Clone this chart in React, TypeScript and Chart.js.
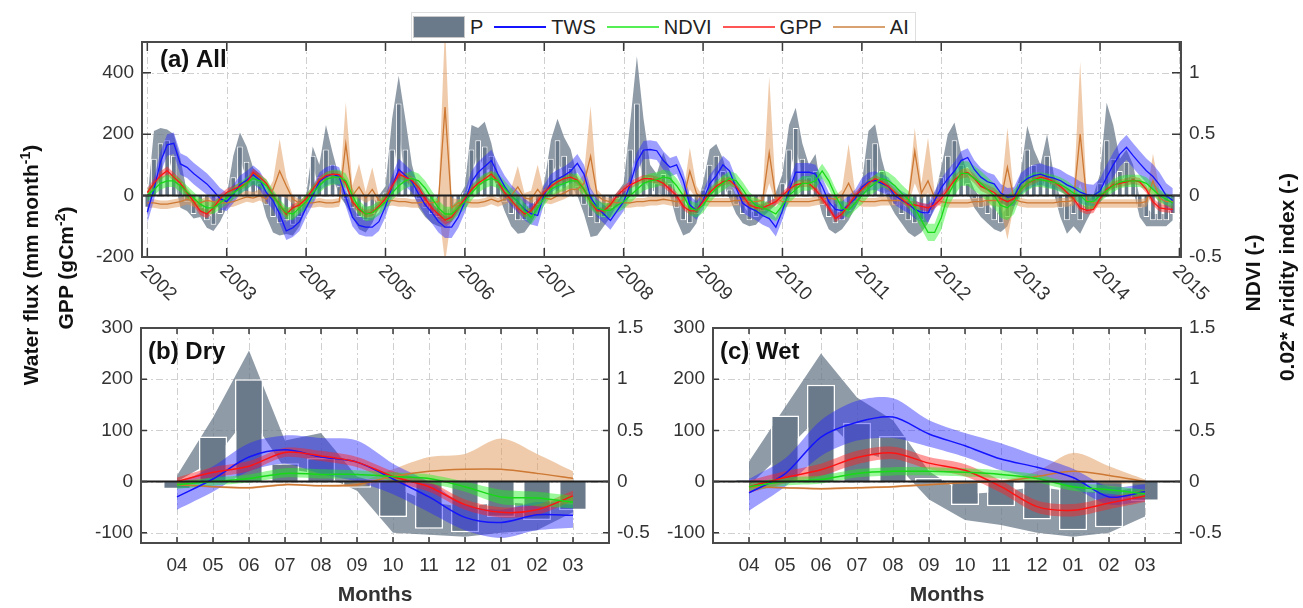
import React, { useEffect, useRef } from 'react';
import { Chart, registerables } from 'chart.js';
Chart.register(...registerables);

// ---------------- DATA ----------------
const startYear = 2002;
const years = [2002, 2003, 2004, 2005, 2006, 2007, 2008, 2009, 2010, 2011, 2012, 2013, 2014, 2015];
const topLeftTicks = [-200, 0, 200, 400];
const topRightTicks = [-0.5, 0, 0.5, 1];
const botLeftTicks = [-100, 0, 100, 200, 300];
const botRightTicks = [-0.5, 0, 0.5, 1, 1.5];
const months = ['04', '05', '06', '07', '08', '09', '10', '11', '12', '01', '02', '03'];

// (a) All: monthly anomalies 2002-2014 (mm / gCm-2 on left axis, NDVI & 0.02*AI on right axis)
const pMean = [
  -40, 120, 170, 180, 130, 40, -20, -60, -40, -80, -95, -60,
  -20, 60, 160, 110, 50, 40, -30, -70, -90, -80, -95, -70,
  -20, 130, 60, 150, 100, 30, -10, -40, -70, -80, -60, -20,
  10, 150, 300, 150, 60, -10, -40, -60, -70, -80, -60, -30,
  10, 150, 180, 160, 130, 40, -20, -60, -80, -80, -60, -30,
  20, 120, 180, 130, 90, 30, -30, -70, -90, -70, -40, -10,
  20, 150, 300, 150, 60, 40, 70, 40, -40, -80, -90, -60,
  20, 100, 130, 80, 20, -30, -60, -80, -70, -50, -30, -10,
  40, 150, 220, 120, 60, 80, -30, -70, -90, -80, -50, -20,
  20, 120, 170, 80, 10, -30, -60, -80, -90, -80, -60, -20,
  60, 130, 180, 100, 40, -10, -40, -60, -80, -90, -70, -20,
  40, 150, 100, 60, 130, 40, -40, -80, -60, -80, -50, -20,
  40, 180, 120, 80, 110, 60, -40, -70, -80, -80, -80, -60,
];
const pSpread = [
  25, 90, 50, 35, 70, 80, 30, 15, 30, 25, 20, 25,
  20, 70, 45, 50, 40, 30, 40, 50, 40, 45, 35, 30,
  20, 30, 40, 80, 40, 30, 20, 30, 40, 40, 30, 20,
  20, 100, 90, 100, 40, 30, 30, 30, 30, 25, 25, 20,
  20, 80, 40, 80, 40, 30, 30, 40, 44, 40, 30, 20,
  20, 60, 70, 60, 60, 30, 30, 65, 40, 30, 30, 20,
  20, 90, 154, 100, 40, 30, 70, 40, 40, 50, 30, 30,
  20, 50, 38, 40, 30, 30, 30, 20, 25, 20, 20, 20,
  30, 80, 66, 50, 40, 55, 30, 40, 34, 30, 30, 20,
  20, 90, 62, 40, 30, 30, 30, 40, 45, 40, 30, 20,
  30, 70, 58, 40, 30, 30, 30, 30, 30, 29, 30, 20,
  30, 77, 50, 40, 70, 30, 30, 44, 40, 44, 30, 20,
  30, 122, 110, 40, 40, 40, 30, 30, 20, 20, 20, 20,
];
const tws = [
  -54, 20, 110, 165, 170, 103, 92, 72, 55, 38, 15, -10,
  -20, 5, 35, 50, 68, 50, 10, -16, -60, -115, -105, -85,
  -40, 0, 45, 62, 70, 62, -5, -70, -97, -103, -103, -85,
  -35, 30, 85, 65, 45, 5, -30, -55, -85, -103, -103, -70,
  -20, 45, 75, 95, 114, 70, 30, 0, -20, -45, -59, -65,
  5, 40, 54, 65, 80, 105, 70, -5, -40, -60, -81, -50,
  -20, 38, 110, 148, 150, 146, 114, 92, 100, 49, -30, -49,
  -16, 38, 65, 100, 80, 25, -25, -40, -50, -65, -75, -103,
  -49, 16, 76, 76, 76, 70, 30, -20, -45, -49, -30, -10,
  27, 45, 49, 40, 30, 0, -15, -27, -45, -55, -57, -16,
  25, 55, 80, 114, 124, 85, 60, 45, 38, 8, -5, -3,
  38, 55, 65, 70, 62, 57, 49, 35, 25, 11, 3, 0,
  15, 60, 100, 135, 157, 130, 105, 81, 62, 35, 0, -16,
];
const twsSpreadYr = [35, 30, 30, 35, 35, 30, 30, 30, 30, 30, 30, 35, 40];
const gpp = [
  10, 40, 65, 81, 60, 40, 10, -20, -50, -60, -40, -10,
  10, 20, 30, 40, 75, 60, 40, 0, -30, -60, -40, -30,
  -10, 20, 50, 65, 70, 68, 40, -20, -45, -60, -55, -35,
  -10, 30, 70, 60, 49, 27, -10, -40, -60, -80, -70, -40,
  -10, 20, 40, 55, 70, 45, 10, -15, -40, -60, -50, -20,
  10, 30, 45, 55, 60, 50, 20, -20, -50, -50, -30, 0,
  20, 35, 45, 55, 55, 50, 40, 20, 0, -35, -50, -50,
  -20, 10, 30, 45, 50, 30, 0, -30, -40, -40, -30, -20,
  0, 20, 35, 40, 40, 20, -10, -40, -75, -60, -30, 0,
  20, 40, 55, 45, 30, 10, -10, -30, -30, -35, -40, -30,
  -10, 20, 50, 70, 75, 55, 30, 20, 10, -10, -20, -10,
  20, 40, 50, 60, 55, 45, 30, 10, -10, -40, -49, -45,
  -10, 20, 35, 40, 45, 50, 45, 20, -20, -40, -43, -45,
];
const gppSpreadYr = [14, 12, 12, 14, 12, 12, 12, 12, 12, 12, 15, 12, 12];
const ndvi = [
  0, 0.05, 0.1, 0.12, 0.12, 0.08, 0.03, -0.02, -0.07, -0.1, -0.1, -0.06,
  -0.02, 0.02, 0.06, 0.1, 0.14, 0.12, 0.08, 0.0, -0.08, -0.14, -0.15, -0.1,
  -0.05, 0.02, 0.08, 0.13, 0.15, 0.15, 0.12, 0.0, -0.1, -0.15, -0.14, -0.1,
  -0.05, 0.02, 0.08, 0.12, 0.14, 0.12, 0.06, -0.02, -0.1, -0.15, -0.15, -0.1,
  -0.05, 0.02, 0.08, 0.12, 0.14, 0.12, 0.06, 0.0, -0.05, -0.12, -0.18, -0.1,
  -0.02, 0.05, 0.08, 0.1, 0.12, 0.12, 0.05, -0.05, -0.1, -0.12, -0.12, -0.08,
  -0.05, 0.0, 0.05, 0.1, 0.12, 0.13, 0.15, 0.14, 0.08, 0.0, -0.1, -0.12,
  -0.08, 0.0, 0.06, 0.1, 0.14, 0.12, 0.05, -0.03, -0.08, -0.1, -0.12, -0.15,
  -0.08, 0.0, 0.05, 0.1, 0.1, 0.12, 0.2, 0.12, 0.0, -0.1, -0.12, -0.06,
  0.0, 0.06, 0.1, 0.14, 0.12, 0.08, 0.02, -0.03, -0.1, -0.2, -0.3, -0.3,
  -0.18, 0.0, 0.1, 0.18, 0.18, 0.14, 0.1, 0.05, 0.0, -0.08, -0.1, -0.05,
  0.05, 0.1, 0.13, 0.13, 0.12, 0.11, 0.09, 0.06, 0.02, 0.0, -0.05, -0.05,
  0.0, 0.04, 0.08, 0.11, 0.12, 0.12, 0.12, 0.1, 0.05, 0.0, -0.03, -0.06,
];
const ndviSpreadYr = [0.05, 0.05, 0.06, 0.06, 0.06, 0.06, 0.06, 0.06, 0.06, 0.07, 0.1, 0.06, 0.05];
const ai = [
  -0.06, -0.06, -0.07, -0.07, -0.06, -0.05, -0.03, -0.05, -0.06, -0.04, -0.05, -0.06,
  -0.06, -0.05, -0.03, -0.01, -0.02, 0.0, -0.03, 0.05, 0.2, 0.08, -0.03, -0.06,
  -0.06, -0.06, -0.05, -0.06, -0.06, -0.05, 0.42, 0.0, 0.07, -0.02, 0.05, -0.04,
  -0.05, -0.04, -0.05, -0.05, -0.06, -0.06, -0.05, -0.06, -0.05, 0.72, -0.1, -0.06,
  -0.05, -0.06, -0.06, -0.05, -0.03, -0.05, -0.03, 0.0, 0.07, -0.02, -0.03, 0.05,
  -0.02, -0.03, 0.0, 0.02, 0.05, 0.05, 0.1, 0.32, 0.0, -0.04, -0.05, -0.06,
  -0.06, -0.06, -0.05, -0.05, -0.04, -0.04, -0.03, -0.04, -0.05, -0.04, 0.2, 0.02,
  -0.04, -0.05, -0.05, -0.05, -0.05, -0.04, -0.04, -0.05, -0.05, -0.04, 0.35, -0.02,
  -0.05, -0.05, -0.05, -0.05, -0.05, -0.04, -0.03, -0.02, -0.03, 0.0, 0.1, -0.02,
  -0.05, -0.05, -0.05, -0.04, -0.04, -0.04, -0.04, -0.04, 0.36, 0.02, 0.12, -0.02,
  -0.05, -0.06, -0.06, -0.06, -0.06, -0.05, -0.05, -0.04, -0.04, -0.04, 0.23, -0.03,
  -0.05, -0.06, -0.06, -0.06, -0.06, -0.06, -0.05, -0.05, -0.04, 0.5, -0.04, -0.06,
  -0.06, -0.06, -0.06, -0.06, -0.06, -0.06, -0.06, -0.05, 0.12, -0.02, -0.05, -0.05,
];
const aiHigh = [
  -0.03, -0.03, -0.04, -0.04, -0.03, -0.02, 0.0, -0.02, -0.03, -0.01, -0.02, -0.03,
  -0.03, -0.02, 0.02, 0.04, 0.03, 0.05, 0.02, 0.12, 0.46, 0.15, 0.0, -0.03,
  -0.03, -0.03, -0.02, -0.03, -0.03, -0.02, 0.76, 0.08, 0.26, 0.03, 0.23, -0.01,
  -0.02, -0.01, -0.02, -0.02, -0.03, -0.03, -0.02, -0.03, -0.02, 1.4, -0.02, -0.03,
  -0.02, -0.03, -0.03, -0.02, 0.0, -0.02, 0.02, 0.06, 0.24, 0.02, 0.04, 0.25,
  0.02, 0.0, 0.04, 0.06, 0.1, 0.1, 0.18, 0.73, 0.05, -0.01, -0.02, -0.03,
  -0.03, -0.03, -0.02, -0.02, -0.01, -0.01, 0.0, -0.01, -0.02, 0.0, 0.39, 0.08,
  -0.01, -0.02, -0.02, -0.02, -0.02, -0.01, -0.01, -0.02, -0.02, 0.0, 0.97, 0.02,
  -0.02, -0.02, -0.02, -0.02, -0.02, -0.01, 0.0, 0.02, 0.0, 0.05, 0.42, 0.02,
  -0.02, -0.02, -0.02, -0.01, -0.01, -0.01, -0.01, 0.0, 0.55, 0.1, 0.47, 0.03,
  -0.02, -0.03, -0.03, -0.03, -0.03, -0.02, -0.02, -0.01, -0.01, 0.0, 0.55, 0.0,
  -0.02, -0.03, -0.03, -0.03, -0.03, -0.03, -0.02, -0.02, 0.0, 1.09, 0.0, -0.03,
  -0.03, -0.03, -0.03, -0.03, -0.03, -0.03, -0.03, -0.02, 0.34, 0.05, -0.02, -0.02,
];
const aiLow = [
  -0.1, -0.1, -0.11, -0.11, -0.1, -0.09, -0.07, -0.09, -0.1, -0.08, -0.09, -0.1,
  -0.1, -0.09, -0.07, -0.05, -0.06, -0.04, -0.07, -0.02, 0.0, -0.02, -0.07, -0.1,
  -0.1, -0.1, -0.09, -0.1, -0.1, -0.09, 0.1, -0.05, -0.02, -0.06, -0.03, -0.08,
  -0.09, -0.08, -0.09, -0.09, -0.1, -0.1, -0.09, -0.1, -0.09, -0.55, -0.16, -0.1,
  -0.09, -0.1, -0.1, -0.09, -0.07, -0.09, -0.07, -0.05, -0.02, -0.06, -0.07, -0.02,
  -0.06, -0.07, -0.05, -0.03, 0.0, 0.0, 0.02, 0.05, -0.05, -0.08, -0.09, -0.1,
  -0.1, -0.1, -0.09, -0.09, -0.08, -0.08, -0.07, -0.08, -0.09, -0.08, 0.05, -0.03,
  -0.08, -0.09, -0.09, -0.09, -0.09, -0.08, -0.08, -0.09, -0.09, -0.08, 0.1, -0.06,
  -0.09, -0.09, -0.09, -0.09, -0.09, -0.08, -0.07, -0.06, -0.07, -0.05, 0.0, -0.06,
  -0.09, -0.09, -0.09, -0.08, -0.08, -0.08, -0.08, -0.08, 0.1, -0.03, 0.02, -0.06,
  -0.09, -0.1, -0.1, -0.1, -0.1, -0.09, -0.09, -0.08, -0.08, -0.1, -0.36, -0.07,
  -0.09, -0.1, -0.1, -0.1, -0.1, -0.1, -0.09, -0.09, -0.08, 0.1, -0.08, -0.1,
  -0.1, -0.1, -0.1, -0.1, -0.1, -0.1, -0.1, -0.09, 0.02, -0.06, -0.09, -0.09,
];

// (b) Dry season climatology
const dryP = [-15, 88, 200, 36, 46, -12, -69, -92, -99, -69, -75, -56];
const dryPHigh = [12, 125, 256, 80, 95, 10, -10, -40, -50, -40, -45, -30];
const dryPLow = [0, 40, 130, 25, 15, -18, -100, -104, -108, -100, -95, -60];
const dryTws = [-30, 5, 48, 62, 48, 38, 5, -30, -70, -80, -65, -66];
const dryTwsHigh = [-5, 30, 75, 90, 85, 80, 35, 0, -45, -55, -40, -45];
const dryTwsLow = [-55, -20, 20, 35, 15, 0, -25, -60, -95, -110, -95, -90];
const dryGpp = [0, 18, 30, 57, 50, 38, 10, -10, -45, -60, -55, -28];
const dryGppHigh = [8, 28, 40, 66, 60, 48, 20, 0, -35, -50, -45, -18];
const dryGppLow = [-8, 8, 20, 48, 40, 28, 0, -20, -55, -70, -65, -38];
const dryNdvi = [-0.03, 0.0, 0.03, 0.08, 0.07, 0.07, 0.05, 0.03, -0.05, -0.15, -0.16, -0.2];
const dryNdviHigh = [0.0, 0.04, 0.07, 0.13, 0.12, 0.11, 0.09, 0.07, 0.0, -0.08, -0.1, -0.14];
const dryNdviLow = [-0.07, -0.04, -0.01, 0.04, 0.03, 0.03, 0.01, -0.02, -0.1, -0.22, -0.24, -0.26];
const dryAi = [-0.03, -0.05, -0.06, -0.03, -0.04, -0.03, 0.05, 0.1, 0.12, 0.12, 0.08, 0.03];
const dryAiHigh = [-0.02, -0.04, -0.05, -0.02, -0.03, -0.01, 0.12, 0.24, 0.27, 0.42, 0.27, 0.1];
const dryAiLow = [-0.04, -0.06, -0.07, -0.04, -0.05, -0.05, 0.0, 0.0, 0.0, 0.0, 0.0, 0.0];

// (c) Wet season climatology
const wetP = [4, 129, 189, 115, 89, 7, -46, -48, -74, -95, -89, -38];
const wetPHigh = [39, 145, 250, 164, 120, 20, -25, -20, -10, -20, -20, -10];
const wetPLow = [-8, 60, 130, 60, 40, -35, -75, -85, -100, -108, -100, -68];
const wetTws = [-22, 15, 87, 116, 126, 93, 70, 44, 28, 8, -30, -20];
const wetTwsHigh = [5, 45, 120, 158, 163, 120, 95, 75, 50, 25, -10, -5];
const wetTwsLow = [-57, -10, 50, 80, 85, 68, 48, 22, 5, -12, -45, -38];
const wetGpp = [-10, 8, 23, 47, 56, 36, 22, -10, -49, -56, -42, -28];
const wetGppHigh = [2, 20, 35, 60, 68, 48, 34, 2, -37, -44, -30, -16];
const wetGppLow = [-22, -4, 11, 34, 44, 24, 10, -22, -61, -68, -54, -40];
const wetNdvi = [-0.05, 0.0, 0.02, 0.08, 0.1, 0.1, 0.09, 0.07, 0.03, -0.05, -0.08, -0.12];
const wetNdviHigh = [-0.01, 0.04, 0.06, 0.12, 0.14, 0.14, 0.13, 0.11, 0.07, -0.01, -0.04, -0.08];
const wetNdviLow = [-0.09, -0.04, -0.02, 0.04, 0.06, 0.06, 0.05, 0.03, -0.01, -0.09, -0.12, -0.16];
const wetAi = [-0.05, -0.06, -0.07, -0.06, -0.05, -0.03, -0.01, 0.0, 0.05, 0.1, 0.06, 0.0];
const wetAiHigh = [-0.04, -0.05, -0.06, -0.05, -0.04, -0.02, 0.0, 0.01, 0.1, 0.28, 0.15, 0.02];
const wetAiLow = [-0.06, -0.07, -0.08, -0.07, -0.06, -0.04, -0.02, -0.01, 0.0, 0.0, -0.02, -0.02];

// ---------------- STYLE ----------------
const SANS = "'Liberation Sans', Arial, Helvetica, sans-serif";
const C = {
  pBar: '#6b7a8a',
  pBand: 'rgba(106,121,137,0.75)',
  tws: '#1414ff',
  twsBand: 'rgba(40,40,255,0.45)',
  gpp: '#ff1414',
  gppBand: 'rgba(255,30,30,0.45)',
  ndvi: '#17d917',
  ndviBand: 'rgba(30,240,30,0.45)',
  ai: '#cd7833',
  aiBand: 'rgba(226,152,88,0.5)',
};

// ---------------- HELPERS ----------------
function pts(xs: number[], ys: number[]) {
  return ys.map((y, i) => ({ x: xs[i], y }));
}
function lineDs(xs: number[], ys: number[], color: string, axis: string, order: number, width: number, tension: number) {
  return { type: 'line', data: pts(xs, ys), borderColor: color, borderWidth: width, pointRadius: 0, fill: false, yAxisID: axis, order, tension };
}
function addBand(list: any[], xs: number[], lo: number[], hi: number[], color: string, axis: string, order: number, tension: number) {
  const idx = list.length;
  list.push({ type: 'line', data: pts(xs, lo), borderColor: 'rgba(0,0,0,0)', borderWidth: 0, pointRadius: 0, fill: false, yAxisID: axis, order, tension });
  list.push({ type: 'line', data: pts(xs, hi), borderColor: 'rgba(0,0,0,0)', borderWidth: 0, pointRadius: 0, backgroundColor: color, fill: { target: idx }, yAxisID: axis, order, tension });
}

function decorPlugin(o: any) {
  return {
    id: 'decor',
    beforeDatasetsDraw(chart: any) {
      const { ctx, chartArea: a, scales } = chart;
      ctx.save();
      ctx.strokeStyle = '#d0d0d0';
      ctx.lineWidth = 1;
      ctx.setLineDash([7, 3, 2, 3]);
      ctx.beginPath();
      for (const t of scales.x.ticks) {
        const px = Math.round(scales.x.getPixelForValue(t.value)) + 0.5;
        ctx.moveTo(px, a.top);
        ctx.lineTo(px, a.bottom);
      }
      for (const t of scales.y.ticks) {
        const py = Math.round(scales.y.getPixelForValue(t.value)) + 0.5;
        ctx.moveTo(a.left, py);
        ctx.lineTo(a.right, py);
      }
      ctx.stroke();
      ctx.restore();
    },
    afterDatasetsDraw(chart: any) {
      const { ctx, chartArea: a, scales } = chart;
      const L = o.tickLen;
      ctx.save();
      const y0 = scales.y.getPixelForValue(0);
      ctx.strokeStyle = '#1e1e1e';
      ctx.lineWidth = 2;
      ctx.beginPath();
      ctx.moveTo(a.left, y0);
      ctx.lineTo(a.right, y0);
      ctx.stroke();
      ctx.strokeStyle = '#3a3a3a';
      ctx.lineWidth = 1.5;
      ctx.beginPath();
      for (const t of scales.x.ticks) {
        const px = scales.x.getPixelForValue(t.value);
        ctx.moveTo(px, a.bottom);
        ctx.lineTo(px, a.bottom - L);
        ctx.moveTo(px, a.top);
        ctx.lineTo(px, a.top + L);
      }
      for (const t of scales.y.ticks) {
        const py = scales.y.getPixelForValue(t.value);
        ctx.moveTo(a.left, py);
        ctx.lineTo(a.left + L, py);
      }
      for (const t of scales.y2.ticks) {
        const py = scales.y2.getPixelForValue(t.value);
        ctx.moveTo(a.right, py);
        ctx.lineTo(a.right - L, py);
      }
      ctx.stroke();
      ctx.strokeStyle = '#4a4a4a';
      ctx.lineWidth = 2;
      ctx.strokeRect(a.left, a.top, a.right - a.left, a.bottom - a.top);
      ctx.fillStyle = '#111';
      ctx.font = `bold 24px ${SANS}`;
      ctx.textAlign = 'left';
      ctx.textBaseline = 'middle';
      ctx.fillText(o.title, a.left + o.titleDx, a.top + o.titleDy);
      if (o.rotated) {
        ctx.font = `19px ${SANS}`;
        ctx.fillStyle = '#333';
        for (const t of scales.x.ticks) {
          const px = scales.x.getPixelForValue(t.value);
          ctx.save();
          ctx.translate(px - 4, a.bottom + 11);
          ctx.rotate(Math.PI / 4);
          ctx.fillText(String(t.value), 0, 0);
          ctx.restore();
        }
      }
      ctx.restore();
    },
  };
}

function buildConfig(p: any) {
  const tickFont = { family: SANS, size: 19 };
  return {
    type: 'line',
    data: { datasets: p.datasets },
    options: {
      animation: false,
      responsive: false,
      devicePixelRatio: 1,
      events: [],
      layout: { padding: { top: p.padTop, left: 0, right: 0, bottom: 0 } },
      plugins: { legend: { display: false }, tooltip: { enabled: false } },
      scales: {
        x: {
          type: 'linear',
          offset: false,
          min: p.xMin,
          max: p.xMax,
          afterBuildTicks: (s: any) => { s.ticks = p.xTicks.map((v: number) => ({ value: v })); },
          afterFit: (s: any) => { s.height = p.bottomH; },
          grid: { display: false, drawTicks: false, offset: false },
          border: { display: false },
          ticks: {
            display: !!p.xLabels,
            autoSkip: false,
            maxRotation: 0,
            minRotation: 0,
            padding: 11,
            color: '#333',
            font: tickFont,
            callback: (v: any) => (p.xLabels ? (p.xLabels[v] ?? '') : ''),
          },
          title: p.xTitle
            ? { display: true, text: p.xTitle, color: '#333', font: { family: SANS, size: 21, weight: 'bold' }, padding: 0 }
            : { display: false },
        },
        y: {
          type: 'linear',
          position: 'left',
          min: p.yMin,
          max: p.yMax,
          afterBuildTicks: (s: any) => { s.ticks = p.yTicks.map((v: number) => ({ value: v })); },
          afterFit: (s: any) => { s.width = p.leftW; },
          grid: { display: false, drawTicks: false },
          border: { display: false },
          ticks: { padding: 8, color: '#333', font: tickFont, callback: (v: any) => String(v) },
        },
        y2: {
          type: 'linear',
          position: 'right',
          min: p.y2Min,
          max: p.y2Max,
          afterBuildTicks: (s: any) => { s.ticks = p.y2Ticks.map((v: number) => ({ value: v })); },
          afterFit: (s: any) => { s.width = p.rightW; },
          grid: { display: false, drawTicks: false },
          border: { display: false },
          ticks: { padding: 8, color: '#333', font: tickFont, callback: (v: any) => String(v) },
        },
      },
    },
    plugins: [decorPlugin(p.decor)],
  };
}

function topConfig() {
  const xs = pMean.map((_, i) => startYear + i / 12);
  const ds: any[] = [];
  addBand(ds, xs, pMean.map((v, i) => v - pSpread[i]), pMean.map((v, i) => v + pSpread[i]), C.pBand, 'y', 10, 0);
  ds.push({ type: 'bar', data: pts(xs, pMean), backgroundColor: C.pBar, borderColor: '#ffffff', borderWidth: 1, barPercentage: 0.85, categoryPercentage: 1, yAxisID: 'y', order: 9 });
  addBand(ds, xs, aiLow, aiHigh, C.aiBand, 'y2', 8, 0);
  const yr = (i: number) => Math.floor(i / 12);
  addBand(ds, xs, tws.map((v, i) => v - twsSpreadYr[yr(i)]), tws.map((v, i) => v + twsSpreadYr[yr(i)]), C.twsBand, 'y', 7, 0);
  addBand(ds, xs, gpp.map((v, i) => v - gppSpreadYr[yr(i)]), gpp.map((v, i) => v + gppSpreadYr[yr(i)]), C.gppBand, 'y', 6, 0);
  addBand(ds, xs, ndvi.map((v, i) => v - ndviSpreadYr[yr(i)]), ndvi.map((v, i) => v + ndviSpreadYr[yr(i)]), C.ndviBand, 'y2', 5, 0);
  ds.push(lineDs(xs, ai, C.ai, 'y2', 4, 1.3, 0));
  ds.push(lineDs(xs, tws, C.tws, 'y', 3, 1.3, 0));
  ds.push(lineDs(xs, gpp, C.gpp, 'y', 2, 1.3, 0));
  ds.push(lineDs(xs, ndvi, C.ndvi, 'y2', 1, 1.3, 0));
  return buildConfig({
    datasets: ds,
    xMin: 2001.933, xMax: 2015.02, xTicks: years, xLabels: null, xTitle: null,
    yMin: -200, yMax: 500, yTicks: topLeftTicks,
    y2Min: -0.5, y2Max: 1.25, y2Ticks: topRightTicks,
    leftW: 142, rightW: 122, bottomH: 53, padTop: 42,
    decor: { title: '(a) All', titleDx: 18, titleDy: 18, tickLen: 9, rotated: true },
  });
}

function seasonConfig(s: any) {
  const xs = months.map((_, i) => i);
  const ds: any[] = [];
  addBand(ds, xs, s.pLow, s.pHigh, C.pBand, 'y', 10, 0);
  ds.push({ type: 'bar', data: pts(xs, s.p), backgroundColor: C.pBar, borderColor: '#ffffff', borderWidth: 1.5, barPercentage: 0.78, categoryPercentage: 1, yAxisID: 'y', order: 9 });
  addBand(ds, xs, s.aiLow, s.aiHigh, C.aiBand, 'y2', 8, 0.3);
  addBand(ds, xs, s.twsLow, s.twsHigh, C.twsBand, 'y', 7, 0.3);
  addBand(ds, xs, s.gppLow, s.gppHigh, C.gppBand, 'y', 6, 0.3);
  addBand(ds, xs, s.ndviLow, s.ndviHigh, C.ndviBand, 'y2', 5, 0.3);
  ds.push(lineDs(xs, s.ai, C.ai, 'y2', 4, 1.5, 0.3));
  ds.push(lineDs(xs, s.tws, C.tws, 'y', 3, 1.5, 0.3));
  ds.push(lineDs(xs, s.gpp, C.gpp, 'y', 2, 1.5, 0.3));
  ds.push(lineDs(xs, s.ndvi, C.ndvi, 'y2', 1, 1.5, 0.3));
  return buildConfig({
    datasets: ds,
    xMin: -1, xMax: 12, xTicks: xs, xLabels: months, xTitle: 'Months',
    yMin: -120, yMax: 300, yTicks: botLeftTicks,
    y2Min: -0.6, y2Max: 1.5, y2Ticks: botRightTicks,
    leftW: s.leftW, rightW: s.rightW, bottomH: 65, padTop: 28,
    decor: { title: s.title, titleDx: 7, titleDy: 24, tickLen: 6, rotated: false },
  });
}

function ChartCanvas({ make, left, top, width, height }: any) {
  const ref = useRef<HTMLCanvasElement | null>(null);
  useEffect(() => {
    const chart = new Chart(ref.current as any, make());
    return () => chart.destroy();
  }, []);
  return <canvas ref={ref} width={width} height={height} style={{ position: 'absolute', left, top, width, height }} />;
}

const legendItems = [
  { label: 'P', color: C.pBar, kind: 'box' },
  { label: 'TWS', color: C.tws, kind: 'line' },
  { label: 'NDVI', color: '#55ee55', kind: 'line' },
  { label: 'GPP', color: '#ff5555', kind: 'line' },
  { label: 'AI', color: '#d9a070', kind: 'line' },
];

const vTitle = (cx: number, cy: number): any => ({
  position: 'absolute', left: cx, top: cy, transform: 'translate(-50%, -50%) rotate(-90deg)',
  whiteSpace: 'nowrap', font: `bold 21px ${SANS}`, color: '#111',
});
const supStyle: any = { fontSize: 14, verticalAlign: 'super', lineHeight: 0 };

export default function App() {
  return (
    <div style={{ position: 'absolute', left: 0, top: 0, width: 1303, height: 608, background: '#fff', overflow: 'hidden' }}>
      <ChartCanvas make={topConfig} left={0} top={0} width={1303} height={310} />
      <ChartCanvas
        make={() => seasonConfig({
          title: '(b) Dry', leftW: 141, rightW: 41,
          p: dryP, pHigh: dryPHigh, pLow: dryPLow, tws: dryTws, twsHigh: dryTwsHigh, twsLow: dryTwsLow,
          gpp: dryGpp, gppHigh: dryGppHigh, gppLow: dryGppLow, ndvi: dryNdvi, ndviHigh: dryNdviHigh, ndviLow: dryNdviLow,
          ai: dryAi, aiHigh: dryAiHigh, aiLow: dryAiLow,
        })}
        left={0} top={300} width={650} height={308}
      />
      <ChartCanvas
        make={() => seasonConfig({
          title: '(c) Wet', leftW: 63, rightW: 122,
          p: wetP, pHigh: wetPHigh, pLow: wetPLow, tws: wetTws, twsHigh: wetTwsHigh, twsLow: wetTwsLow,
          gpp: wetGpp, gppHigh: wetGppHigh, gppLow: wetGppLow, ndvi: wetNdvi, ndviHigh: wetNdviHigh, ndviLow: wetNdviLow,
          ai: wetAi, aiHigh: wetAiHigh, aiLow: wetAiLow,
        })}
        left={650} top={300} width={653} height={308}
      />
      <div style={{
        position: 'absolute', left: 411, top: 12, height: 29, display: 'flex', alignItems: 'center',
        border: '1px solid #dedede', borderBottom: 'none', background: '#fff', padding: '0 6px 0 1px',
        font: `20px ${SANS}`, color: '#222', boxSizing: 'border-box',
      }}>
        {legendItems.map((it) => (
          <div key={it.label} style={{ display: 'flex', alignItems: 'center', marginRight: it.label === 'AI' ? 0 : 11 }}>
            {it.kind === 'box'
              ? <div style={{ width: 50, height: 20, background: it.color, border: '1px solid #c8c8c8' }} />
              : <div style={{ width: 52, height: 2, background: it.color }} />}
            <span style={{ marginLeft: 5 }}>{it.label}</span>
          </div>
        ))}
      </div>
      <div style={vTitle(31, 265)}>Water flux (mm month<span style={supStyle}>-1</span>)</div>
      <div style={vTitle(66, 268)}>GPP (gCm<span style={supStyle}>-2</span>)</div>
      <div style={vTitle(1253, 273)}>NDVI (-)</div>
      <div style={vTitle(1287, 277)}>0.02* Aridity index (-)</div>
    </div>
  );
}
